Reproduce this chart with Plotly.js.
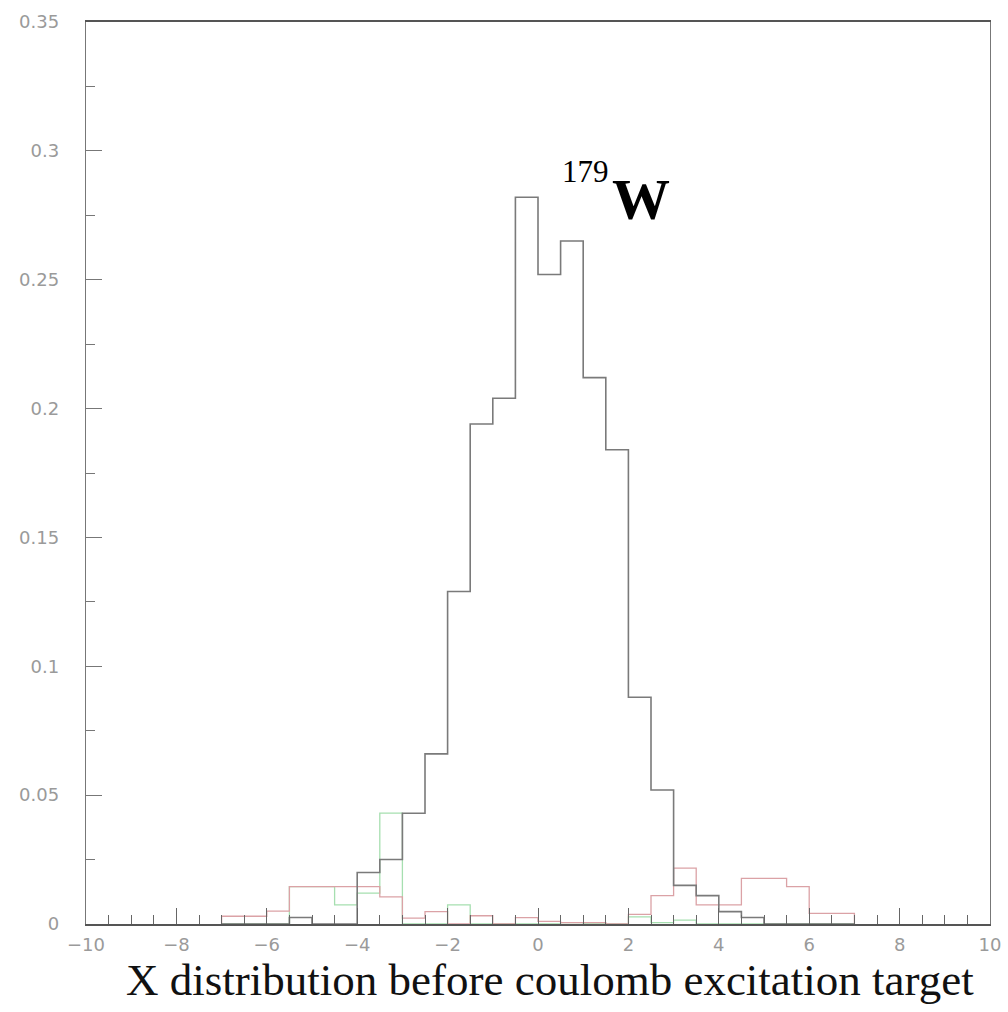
<!DOCTYPE html>
<html>
<head>
<meta charset="utf-8">
<script src="https://cdn.plot.ly/plotly-3.0.1.min.js"></script>
<style>html,body{margin:0;padding:0;background:#fff;}#chart{width:1008px;height:1012px;}</style>
</head>
<body>
<div id="chart"></div>
<script>
// Bin left edges (bin width 0.5) and the closing edge
const binLeft = [-7, -6.5, -6, -5.5, -5, -4.5, -4, -3.5, -3, -2.5, -2, -1.5, -1, -0.5,
                 0, 0.5, 1, 1.5, 2, 2.5, 3, 3.5, 4, 4.5, 5, 5.5, 6, 6.5];
const lastEdge = 7;

// Main (black) distribution
const blackVals = [0, 0, 0, 0.0025, 0, 0, 0.020, 0.025, 0.043, 0.066, 0.129, 0.194, 0.204, 0.282,
                   0.252, 0.265, 0.212, 0.184, 0.088, 0.052, 0.015, 0.011, 0.0048, 0.0025, 0, 0, 0, 0];
// Red distribution
const redVals = [0.003, 0.003, 0.005, 0.0145, 0.0145, 0.0145, 0.0145, 0.0105, 0.0023, 0.0048, 0, 0.0032, 0, 0.0025,
                 0.001, 0.0005, 0.0005, 0, 0.0037, 0.011, 0.0217, 0.0074, 0.0074, 0.0177, 0.0177, 0.0145, 0.0041, 0.0041];
// Green distribution
const greenVals = [0, 0, 0, 0.0145, 0.0145, 0.0074, 0.012, 0.043, 0, 0, 0.0074, 0, 0, 0,
                   0, 0.0005, 0, 0, 0.0028, 0.0005, 0.0015, 0, 0, 0, 0, 0, 0, 0];

const xTickVals = [-10, -8, -6, -4, -2, 0, 2, 4, 6, 8, 10];
const xTickText = ['\u221210', '\u22128', '\u22126', '\u22124', '\u22122', '0', '2', '4', '6', '8', '10'];
const yTickVals = [0, 0.05, 0.1, 0.15, 0.2, 0.25, 0.3, 0.35];
const yTickText = ['0', '0.05', '0.1', '0.15', '0.2', '0.25', '0.3', '0.35'];
const xTitle = 'X distribution before coulomb excitation target';

function stepTrace(vals, color, width) {
  const x = [binLeft[0]].concat(binLeft, [lastEdge, lastEdge]);
  const y = [0].concat(vals, [vals[vals.length - 1], 0]);
  return {
    type: 'scatter', mode: 'lines', x: x, y: y,
    line: {shape: 'hv', color: color, width: width},
    hoverinfo: 'skip', showlegend: false
  };
}

const data = [
  stepTrace(greenVals, '#a6dfb0', 1.3),
  stepTrace(redVals, '#dba2a6', 1.3),
  stepTrace(blackVals, '#7a7a7a', 1.6)
];

const layout = {
  width: 1008, height: 1012,
  margin: {l: 86, r: 18, t: 22, b: 88},
  paper_bgcolor: '#ffffff', plot_bgcolor: '#ffffff',
  showlegend: false,
  xaxis: {
    range: [-10, 10], showgrid: false, zeroline: false,
    tickmode: 'array', tickvals: xTickVals, ticktext: xTickText,
    ticks: 'inside', ticklen: 16, tickwidth: 1, tickcolor: '#666',
    minor: {dtick: 0.5, ticks: 'inside', ticklen: 9, tickcolor: '#666', tickwidth: 1, showgrid: false},
    showline: true, linecolor: '#555', linewidth: 2, mirror: true,
    ticklabelstandoff: 3,
    tickfont: {family: 'DejaVu Sans', size: 18, color: '#9a9a9a'}
  },
  yaxis: {
    range: [0, 0.35], showgrid: false, zeroline: false,
    tickmode: 'array', tickvals: yTickVals, ticktext: yTickText,
    ticks: 'inside', ticklen: 16, tickwidth: 1, tickcolor: '#777',
    minor: {dtick: 0.025, ticks: 'inside', ticklen: 9, tickcolor: '#777', tickwidth: 1, showgrid: false},
    showline: true, linecolor: '#777', linewidth: 1.3, mirror: true,
    ticklabelstandoff: 22,
    tickfont: {family: 'DejaVu Sans', size: 18, color: '#9a9a9a'}
  },
  annotations: [
    {x: 0.513, y: -0.062, xref: 'paper', yref: 'paper', text: xTitle, showarrow: false,
     xanchor: 'center', yanchor: 'middle',
     font: {family: 'Liberation Serif', size: 45, color: '#111'}},
    {x: 1.04, y: 0.2918, xref: 'x', yref: 'y', text: '179', showarrow: false,
     font: {family: 'Liberation Serif', size: 31, color: '#000'}},
    {x: 2.28, y: 0.281, xref: 'x', yref: 'y', text: '<b>W</b>', showarrow: false,
     font: {family: 'Liberation Serif', size: 58, color: '#000'}}
  ]
};

Plotly.newPlot('chart', data, layout, {staticPlot: true, displayModeBar: false});
</script>
</body>
</html>
